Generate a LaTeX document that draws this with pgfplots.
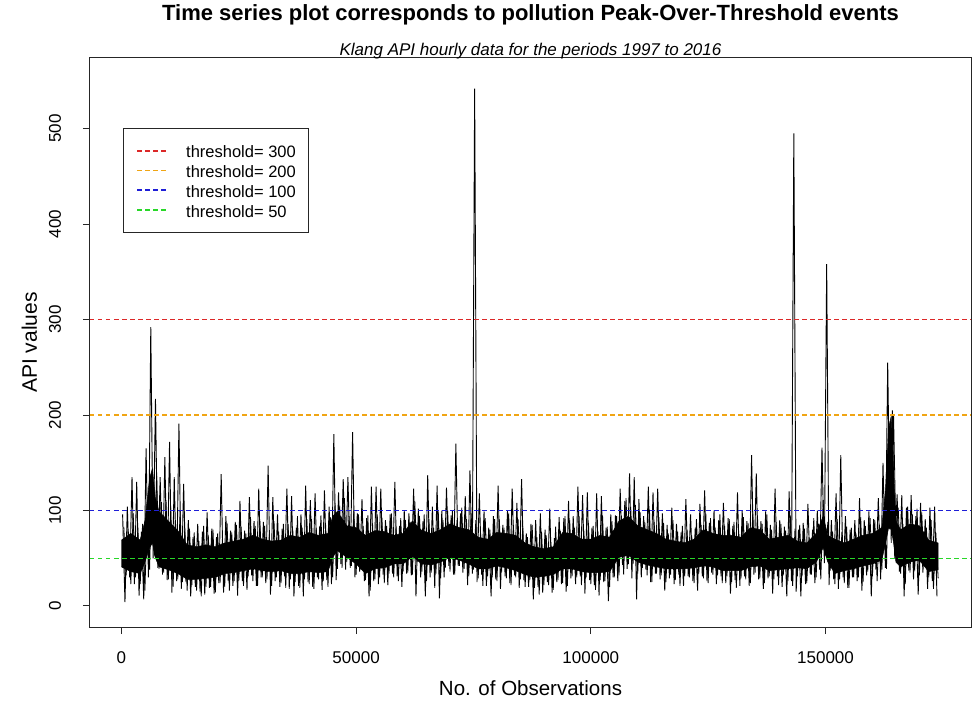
\documentclass[border=0pt]{standalone}
\usepackage{fontspec}
\setmainfont{Liberation Sans}
\usepackage{pgfplots}
\pgfplotsset{compat=1.18}
\definecolor{tred}{RGB}{220,40,40}
\definecolor{torange}{RGB}{240,165,20}
\definecolor{tblue}{RGB}{30,30,215}
\definecolor{tgreen}{RGB}{40,215,40}
\begin{document}
\begin{tikzpicture}
\begin{axis}[
  scale only axis, width=881pt, height=569pt,
  xmin=-6700, xmax=181000, ymin=-22, ymax=574,
  axis line style={line width=1pt, black!85},
  tick align=outside, xtick pos=bottom, ytick pos=left,
  major tick length=7pt,
  tick style={line width=1pt, black!85},
  scaled x ticks=false,
  xtick={0,50000,100000,150000},
  xticklabels={0,50000,100000,150000},
  ytick={0,100,200,300,400,500},
  yticklabels={0,100,200,300,400,500},
  xticklabel style={font=\fontsize{17}{17}\selectfont, anchor=base, yshift=-29pt},
  yticklabel style={font=\fontsize{17}{17}\selectfont, xshift=-22pt, rotate=90, anchor=base},
  xlabel={No. of Observations},
  ylabel={API values},
  xlabel style={font=\fontsize{20.5}{20.5}\selectfont, at={(0.5,-0.1195)}, anchor=base},
  ylabel style={font=\fontsize{21}{21}\selectfont, at={(-0.0602,0.5)}, anchor=base, rotate=0},
  title={Time series plot corresponds to pollution Peak-Over-Threshold events},
  title style={font=\bfseries\fontsize{22}{22}\selectfont, at={(0.5,1.056)}, anchor=base},
  extra description/.code={
    \node[font=\itshape\fontsize{17}{17}\selectfont, anchor=base] at (0.5,1.0044) {Klang API hourly data for the periods 1997 to 2016};
  },
  legend style={at={(0.0375,0.8766)}, anchor=north west, draw=black!85, line width=0.8pt,
    font=\fontsize{16.5}{16.5}\selectfont, inner xsep=13pt, inner ysep=12.3pt,
    nodes={inner sep=0pt, text height=17pt, text depth=2.7pt}, row sep=0pt},
  legend cell align=left,
  legend image code/.code={\draw[#1, line width=1.5pt] (0pt,0pt) -- (32pt,0pt); \path[draw=none, fill=none] (0pt,0pt) -- (49pt,0pt);},
]
% dense core of the series
\addplot[fill=black, draw=black, line width=0.5pt, forget plot] coordinates {
(0,69) (2000,76) (4000,69) (5000,89) (6000,134) (6600,144) (7200,114) (8000,99) (10000,89) (12000,79) (14000,64) (16000,62) (18000,64) (20000,62) (22000,66) (24000,68) (26000,70) (28000,74) (30000,70) (32000,68) (34000,69) (36000,74) (38000,72) (40000,77) (42000,74) (44000,76) (45000,94) (46000,99) (48000,84) (50000,82) (52000,74) (54000,79) (56000,78) (58000,74) (60000,76) (62000,89) (64000,79) (66000,76) (68000,80) (70000,86) (72000,82) (74000,80) (76000,72) (78000,70) (80000,77) (82000,76) (84000,74) (86000,66) (88000,62) (90000,60) (92000,62) (94000,77) (96000,76) (98000,70) (100000,70) (102000,74) (104000,72) (106000,89) (108000,94) (110000,84) (112000,80) (114000,76) (116000,70) (118000,68) (120000,66) (122000,70) (124000,80) (126000,76) (128000,74) (130000,74) (132000,72) (134000,82) (136000,80) (138000,70) (140000,72) (142000,74) (144000,68) (146000,66) (148000,76) (149500,94) (150500,74) (152000,70) (154000,66) (156000,70) (158000,74) (160000,76) (162000,82) (162800,124) (163400,184) (164000,199) (164500,144) (165000,89) (166000,80) (168000,86) (170000,84) (172000,69) (174000,66)
(174000,38) (172000,36) (170000,48) (168000,46) (166000,41) (165000,46) (164500,66) (164000,81) (163400,81) (162800,66) (162000,48) (160000,44) (158000,42) (156000,39) (154000,37) (152000,34) (150500,46) (149500,61) (148000,46) (146000,39) (144000,40) (142000,39) (140000,38) (138000,37) (136000,42) (134000,41) (132000,37) (130000,37) (128000,37) (126000,41) (124000,42) (122000,40) (120000,39) (118000,39) (116000,39) (114000,41) (112000,43) (110000,46) (108000,53) (106000,51) (104000,36) (102000,35) (100000,35) (98000,36) (96000,39) (94000,39) (92000,33) (90000,31) (88000,30) (86000,33) (84000,37) (82000,40) (80000,42) (78000,39) (76000,39) (74000,44) (72000,48) (70000,51) (68000,46) (66000,43) (64000,44) (62000,52) (60000,44) (58000,44) (56000,40) (54000,39) (52000,34) (50000,44) (48000,51) (46000,58) (45000,51) (44000,36) (42000,35) (40000,36) (38000,34) (36000,34) (34000,37) (32000,36) (30000,37) (28000,39) (26000,37) (24000,35) (22000,34) (20000,30) (18000,29) (16000,28) (14000,28) (12000,34) (10000,38) (8000,41) (7200,51) (6600,66) (6000,61) (5000,46) (4000,34) (2000,36) (0,41)
};
% medium swings of the series
\addplot[black, line width=0.8pt, forget plot] coordinates {
(500,83) (1000,32) (1500,78) (2000,23) (2500,97) (3000,30) (3500,82) (4000,23) (4500,86) (5000,16)
(5500,103) (6000,38) (6500,140) (7000,52) (7500,140) (8000,39) (8500,109) (9000,35) (9500,111) (10000,28)
(10500,103) (11000,20) (11500,90) (12000,28) (12500,100) (13000,25) (13500,82) (14000,16) (14500,81) (15000,22)
(15500,77) (16000,16) (16500,68) (17000,10) (17500,84) (18000,20) (18500,74) (19000,20) (19500,80) (20000,14)
(20500,76) (21000,24) (21500,70) (22000,20) (22500,87) (23000,16) (23500,77) (24000,26) (24500,85) (25000,26)
(25500,83) (26000,21) (26500,76) (27000,31) (27500,93) (28000,26) (28500,84) (29000,21) (29500,89) (30000,30)
(30500,84) (31000,28) (31500,75) (32000,21) (32500,89) (33000,30) (33500,78) (34000,24) (34500,86) (35000,19)
(35500,86) (36000,28) (36500,80) (37000,25) (37500,94) (38000,19) (38500,82) (39000,28) (39500,91) (40000,23)
(40500,91) (41000,18) (41500,82) (42000,28) (42500,95) (43000,26) (43500,85) (44000,20) (44500,93) (45000,30)
(45500,108) (46000,39) (46500,105) (47000,40) (47500,113) (48000,46) (48500,94) (49000,42) (49500,100) (50000,33)
(50500,96) (51000,38) (51500,84) (52000,27) (52500,95) (53000,16) (53500,86) (54000,28) (54500,96) (55000,30)
(55500,92) (56000,24) (56500,84) (57000,34) (57500,97) (58000,30) (58500,84) (59000,26) (59500,92) (60000,36)
(60500,90) (61000,35) (61500,88) (62000,33) (62500,110) (63000,46) (63500,94) (64000,36) (64500,96) (65000,26)
(65500,91) (66000,35) (66500,82) (67000,34) (67500,99) (68000,29) (68500,90) (69000,40) (69500,100) (70000,36)
(70500,100) (71000,33) (71500,90) (72000,42) (72500,103) (73000,39) (73500,91) (74000,31) (74500,97) (75000,38)
(75500,90) (76000,29) (76500,78) (77000,21) (77500,92) (78000,31) (78500,80) (79000,30) (79500,91) (80000,26)
(80500,91) (81000,36) (81500,82) (82000,29) (82500,97) (83000,22) (83500,85) (84000,30) (84500,91) (85000,28)
(85500,84) (86000,20) (86500,72) (87000,27) (87500,85) (88000,19) (88500,72) (89000,12) (89500,78) (90000,22)
(90500,74) (91000,22) (91500,67) (92000,17) (92500,83) (93000,27) (93500,79) (94000,24) (94500,94) (95000,21)
(95500,90) (96000,31) (96500,82) (97000,30) (97500,94) (98000,22) (98500,80) (99000,30) (99500,87) (100000,23)
(100500,84) (101000,17) (101500,78) (102000,27) (102500,95) (103000,26) (103500,83) (104000,20) (104500,89) (105000,30)
(105500,94) (106000,32) (106500,95) (107000,33) (107500,113) (108000,44) (108500,104) (109000,44) (109500,106) (110000,34)
(110500,98) (111000,40) (111500,88) (112000,32) (112500,101) (113000,25) (113500,88) (114000,34) (114500,93) (115000,32)
(115500,87) (116000,25) (116500,76) (117000,33) (117500,90) (118000,27) (118500,78) (119000,21) (119500,84) (120000,31)
(120500,80) (121000,30) (121500,74) (122000,24) (122500,91) (123000,34) (123500,85) (124000,29) (124500,97) (125000,24)
(125500,92) (126000,33) (126500,82) (127000,32) (127500,96) (128000,24) (128500,84) (129000,31) (129500,91) (130000,25)
(130500,88) (131000,19) (131500,79) (132000,29) (132500,93) (133000,28) (133500,87) (134000,24) (134500,99) (135000,35)
(135500,95) (136000,29) (136500,86) (137000,24) (137500,96) (138000,31) (138500,80) (139000,28) (139500,88) (140000,22)
(140500,86) (141000,32) (141500,79) (142000,26) (142500,95) (143000,21) (143500,81) (144000,31) (144500,85) (145000,31)
(145500,81) (146000,24) (146500,72) (147000,33) (147500,92) (148000,30) (148500,86) (149000,28) (149500,111) (150000,53)
(150500,88) (151000,37) (151500,78) (152000,23) (152500,91) (153000,28) (153500,78) (154000,24) (154500,83) (155000,19)
(155500,82) (156000,30) (156500,76) (157000,30) (157500,93) (158000,25) (158500,84) (159000,36) (159500,92) (160000,31)
(160500,90) (161000,26) (161500,85) (162000,38) (162500,103) (163000,39) (163500,194) (164000,66) (164500,200) (165000,75)
(165500,103) (166000,34) (166500,86) (167000,23) (167500,104) (168000,35) (168500,96) (169000,37) (169500,102) (170000,32)
(170500,98) (171000,42) (171500,82) (172000,30) (172500,90) (173000,18) (173500,77) (174000,29)
};
% spikes and dips of the series
\addplot[black, line width=0.9pt, forget plot] coordinates {
(250,96) (750,4) (1250,104) (1750,30) (2250,135) (2750,23) (3250,130) (3750,11) (4250,78) (4750,7)
(5250,165) (5750,30) (6250,292) (6750,50) (7250,217) (7750,40) (8250,135) (8750,33) (9250,156) (9750,27)
(10250,172) (10750,14) (11250,135) (11750,26) (12250,191) (12750,18) (13250,128) (13750,25) (14250,90) (14750,10)
(15250,72) (15750,20) (16250,86) (16750,15) (17250,78) (17750,12) (18250,98) (18750,19) (19250,81) (19750,13)
(20250,72) (20750,24) (21250,138) (21750,14) (22250,94) (22750,26) (23250,79) (23750,21) (24250,88) (24750,11)
(25250,110) (25750,26) (26250,79) (26750,17) (27250,114) (27750,32) (28250,89) (28750,21) (29250,123) (29750,30)
(30250,88) (30750,24) (31250,147) (31750,12) (32250,114) (32750,26) (33250,96) (33750,20) (34250,81) (34750,31)
(35250,123) (35750,18) (36250,115) (36750,10) (37250,82) (37750,21) (38250,96) (38750,10) (39250,126) (39750,25)
(40250,111) (40750,20) (41250,118) (41750,30) (42250,84) (42750,17) (43250,121) (43750,27) (44250,104) (44750,23)
(45250,180) (45750,27) (46250,119) (46750,44) (47250,133) (47750,38) (48250,135) (48750,40) (49250,182) (49750,30)
(50250,97) (50750,36) (51250,112) (51750,26) (52250,92) (52750,10) (53250,125) (53750,26) (54250,125) (54750,23)
(55250,123) (55750,33) (56250,90) (56750,22) (57250,96) (57750,34) (58250,130) (58750,31) (59250,84) (59750,20)
(60250,100) (60750,34) (61250,97) (61750,32) (62250,123) (62750,10) (63250,102) (63750,30) (64250,89) (64750,10)
(65250,137) (65750,30) (66250,104) (66750,19) (67250,126) (67750,8) (68250,100) (68750,30) (69250,124) (69750,42)
(70250,95) (70750,33) (71250,170) (71750,42) (72250,97) (72750,35) (73250,115) (73750,22) (74250,142) (74750,34)
(75250,542) (75750,25) (76250,118) (76750,33) (77250,99) (77750,21) (78250,82) (78750,10) (79250,94) (79750,28)
(80250,126) (80750,18) (81250,85) (81750,31) (82250,100) (82750,24) (83250,123) (83750,32) (84250,108) (84750,19)
(85250,133) (85750,27) (86250,76) (86750,20) (87250,86) (87750,7) (88250,90) (88750,20) (89250,97) (89750,14)
(90250,80) (90750,25) (91250,102) (91750,14) (92250,71) (92750,25) (93250,93) (93750,23) (94250,92) (94750,15)
(95250,110) (95750,29) (96250,94) (96750,23) (97250,125) (97750,31) (98250,116) (98750,13) (99250,119) (99750,27)
(100250,82) (100750,22) (101250,118) (101750,11) (102250,115) (102750,25) (103250,82) (103750,5) (104250,96) (104750,30)
(105250,95) (105750,26) (106250,123) (106750,43) (107250,110) (107750,39) (108250,139) (108750,29) (109250,135) (109750,7)
(110250,112) (110750,30) (111250,94) (111750,38) (112250,125) (112750,25) (113250,119) (113750,34) (114250,123) (114750,28)
(115250,97) (115750,16) (116250,85) (116750,29) (117250,103) (117750,23) (118250,86) (118750,33) (119250,77) (119750,21)
(120250,112) (120750,31) (121250,96) (121750,26) (122250,82) (122750,16) (123250,107) (123750,31) (124250,121) (124750,26)
(125250,87) (125750,35) (126250,100) (126750,23) (127250,90) (127750,31) (128250,108) (128750,24) (129250,92) (129750,13)
(130250,84) (130750,27) (131250,119) (131750,21) (132250,100) (132750,31) (133250,89) (133750,21) (134250,158) (134750,33)
(135250,139) (135750,28) (136250,89) (136750,18) (137250,99) (137750,29) (138250,85) (138750,13) (139250,123) (139750,31)
(140250,90) (140750,20) (141250,83) (141750,10) (142250,120) (142750,26) (143250,495) (143750,15) (144250,80) (144750,10)
(145250,87) (145750,23) (146250,107) (146750,33) (147250,80) (147750,24) (148250,100) (148750,38) (149250,166) (149750,45)
(150250,358) (150750,22) (151250,90) (151750,28) (152250,118) (152750,18) (153250,158) (153750,30) (154250,94) (154750,19)
(155250,80) (155750,30) (156250,90) (156750,26) (157250,113) (157750,16) (158250,90) (158750,32) (159250,99) (159750,10)
(160250,91) (160750,38) (161250,113) (161750,28) (162250,150) (162750,40) (163250,255) (163750,80) (164250,205) (164750,50)
(165250,117) (165750,36) (166250,116) (166750,10) (167250,103) (167750,37) (168250,116) (168750,28) (169250,94) (169750,12)
(170250,108) (170750,35) (171250,91) (171750,18) (172250,103) (172750,26) (173250,104) (173750,10)
};
\addplot[tred, line width=1.5pt, dash pattern=on 4.5pt off 3.5pt] coordinates {(-6700,300) (181000,300)};
\addlegendentry{threshold= 300}
\addplot[torange, line width=1.5pt, dash pattern=on 4.5pt off 3.5pt] coordinates {(-6700,200) (181000,200)};
\addlegendentry{threshold= 200}
\addplot[tblue, line width=1.5pt, dash pattern=on 4.5pt off 3.5pt] coordinates {(-6700,100) (181000,100)};
\addlegendentry{threshold= 100}
\addplot[tgreen, line width=1.5pt, dash pattern=on 4.5pt off 3.5pt] coordinates {(-6700,50) (181000,50)};
\addlegendentry{threshold= 50}
\end{axis}
\path[use as bounding box] ([shift={(-90pt,-74pt)}]current axis.south west) rectangle ([shift={(5pt,58pt)}]current axis.north east);
\end{tikzpicture}
\end{document}
